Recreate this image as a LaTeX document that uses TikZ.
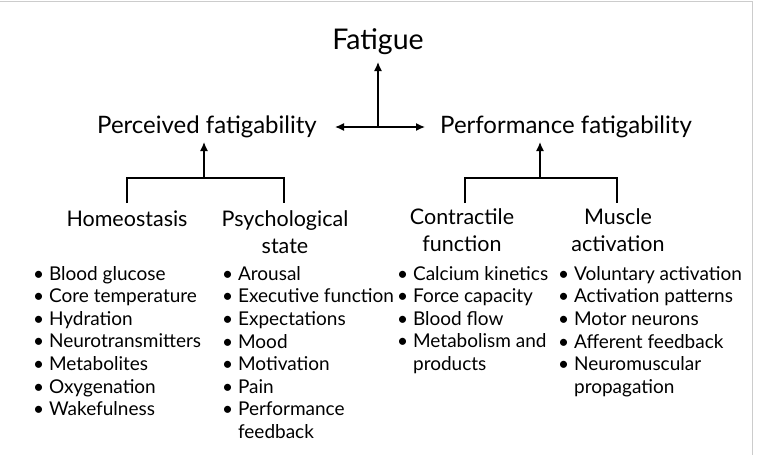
\documentclass[tikz,border=0pt]{standalone}
\usepackage{fontspec}
\setmainfont{Lato}
\usetikzlibrary{arrows.meta}
\begin{document}
\begin{tikzpicture}[x=1pt,y=-1pt,
  lvl/.style={inner sep=0pt,font=\fontsize{24}{28}\selectfont},
  sub/.style={inner sep=0pt,align=center,font=\fontsize{21.5}{27}\selectfont},
  lst/.style={inner sep=0pt,anchor=north west,align=left,font=\fontsize{19}{22.6}\selectfont},
  con/.style={line width=1.6pt},
  arr/.style={line width=1.4pt,-{Latex[length=9pt,width=8pt]}}]
\useasboundingbox (0,0) rectangle (762,455);
\draw[gray!40,line width=0.8pt] (0,1) -- (752,1) -- (752,455);
\node[inner sep=0pt,font=\fontsize{28.5}{32}\selectfont] (fat) at (378,42) {Fatigue};
\node[lvl] (per) at (207,127) {Perceived fatigability};
\node[lvl] (perf) at (566,127) {Performance fatigability};
\coordinate (mid) at (378,127);
\coordinate (la) at (335,127);
\coordinate (ra) at (425,127);
\draw[arr] (mid) -- (378,62);
\draw[line width=1.4pt,{Latex[length=9pt,width=8pt]}-{Latex[length=9pt,width=8pt]}] (la) -- (ra);
\node[sub] (hom) at (127,219) {Homeostasis};
\node[sub] (psy) at (285,232) {Psychological\\state};
\node[sub] (con) at (462,230) {Contractile\\function};
\node[sub] (mus) at (618,230) {Muscle\\activation};
\coordinate (lb) at (204,178);
\coordinate (rb) at (540,178);
\draw[con] (127,203) -- (127,178) -- (284,178) -- (284,203);
\draw[con] (465,203) -- (465,178) -- (617,178) -- (617,203);
\draw[arr] (lb) -- (204,142);
\draw[arr] (rb) -- (540,142);
\newcommand\bl{\textbullet\ }
\newcommand\ind{\hphantom{\textbullet\ }}
\node[lst] (l1) at (33,266) {\bl Blood glucose\\\bl Core temperature\\\bl Hydration\\\bl Neurotransmitters\\\bl Metabolites\\\bl Oxygenation\\\bl Wakefulness};
\node[lst] (l2) at (222,266) {\bl Arousal\\\bl Executive function\\\bl Expectations\\\bl Mood\\\bl Motivation\\\bl Pain\\\bl Performance\\\ind feedback};
\node[lst] (l3) at (397,266) {\bl Calcium kinetics\\\bl Force capacity\\\bl Blood flow\\\bl Metabolism and\\\ind products};
\node[lst] (l4) at (558,266) {\bl Voluntary activation\\\bl Activation patterns\\\bl Motor neurons\\\bl Afferent feedback\\\bl Neuromuscular\\\ind propagation};
\end{tikzpicture}
\end{document}
